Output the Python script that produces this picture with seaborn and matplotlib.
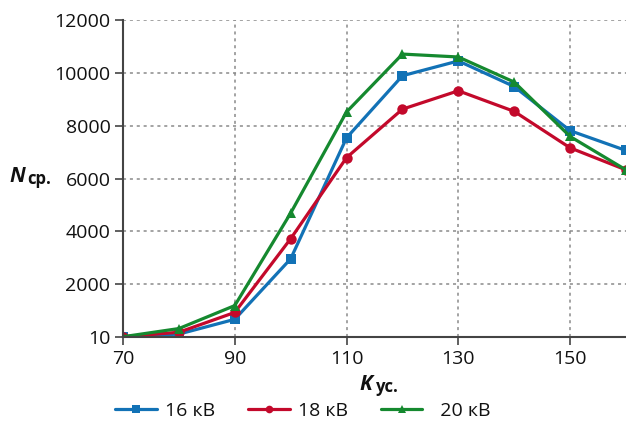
import matplotlib
matplotlib.use("Agg")
import matplotlib.pyplot as plt
import seaborn as sns
import pandas as pd
from matplotlib.lines import Line2D

# Data
k_values = [70, 80, 90, 100, 110, 120, 130, 140, 150, 160]
n_16kv = [10, 110, 670, 2960, 7540, 9890, 10450, 9480, 7810, 7060]
n_18kv = [10, 180, 930, 3720, 6790, 8625, 9320, 8540, 7160, 6325]
n_20kv = [10, 320, 1190, 4690, 8520, 10710, 10600, 9650, 7590, 6325]
series_labels = ["16 кВ", "18 кВ", "  20 кВ"]
y_ticks = [0, 2000, 4000, 6000, 8000, 10000, 12000]
y_tick_labels = ["10", "2000", "4000", "6000", "8000", "10000", "12000"]
x_ticks = [70, 90, 110, 130, 150]

df = pd.DataFrame({
    "K": k_values * 3,
    "N": n_16kv + n_18kv + n_20kv,
    "series": [series_labels[0]] * 10 + [series_labels[1]] * 10 + [series_labels[2]] * 10,
})

sns.set_theme(style="white")
plt.rcParams["font.family"] = ["Open Sans", "DejaVu Sans"]

colors = ["#1272b6", "#c3092b", "#15892f"]
markers = ["s", "o", "^"]

fig = plt.figure(figsize=(6.26, 4.25), dpi=100)
ax = fig.add_axes([123 / 626, 1 - 337 / 425, 1 - 123 / 626, (337 - 20) / 425])

sns.lineplot(data=df, x="K", y="N", hue="series", style="series",
             palette=colors, markers=markers, dashes=False, linewidth=2.3,
             markersize=7.5, markeredgewidth=0, ax=ax, legend=False)

ax.set_xlim(70, 160)
ax.set_ylim(0, 12000)
ax.set_xticks(x_ticks)
ax.set_xticklabels([str(v) for v in x_ticks])
ax.set_yticks(y_ticks)
ax.set_yticklabels(y_tick_labels)
ax.set_xlabel("")
ax.set_ylabel("")

ax.grid(True, color="#8a8a8a", linestyle=(0, (2, 2.5)), linewidth=1.1)
ax.set_axisbelow(True)
for s in ["top", "right"]:
    ax.spines[s].set_visible(False)
for s in ["left", "bottom"]:
    ax.spines[s].set_color("#444444")
    ax.spines[s].set_linewidth(1.5)
ax.tick_params(axis="both", which="major", direction="out", length=6, width=1.2,
               color="#444444", labelsize=14, labelcolor="#111111", pad=3,
               left=True, bottom=True)

# Axis labels
fig.text(9 / 626, 1 - 182 / 425, "N", fontsize=15, fontweight="bold", fontstyle="italic",
         ha="left", va="baseline", color="#111111")
fig.text(27 / 626, 1 - 184 / 425, "ср.", fontsize=12, fontweight="bold",
         ha="left", va="baseline", color="#111111")
fig.text(359 / 626, 1 - 390 / 425, "K", fontsize=15, fontweight="bold", fontstyle="italic",
         ha="left", va="baseline", color="#111111")
fig.text(376 / 626, 1 - 392 / 425, "ус.", fontsize=12, fontweight="bold",
         ha="left", va="baseline", color="#111111")

# Legend
handles = [Line2D([], [], color=c, marker=m, linewidth=2.3, markersize=5.5, markeredgewidth=0)
           for c, m in zip(colors, markers)]
fig.legend(handles, series_labels, loc="center", bbox_to_anchor=(303 / 626, 1 - 411 / 425),
           ncol=3, frameon=False, fontsize=14, handlelength=2.15, handletextpad=0.4,
           columnspacing=1.7, labelcolor="#111111")

fig.savefig("out.png", dpi=100)
